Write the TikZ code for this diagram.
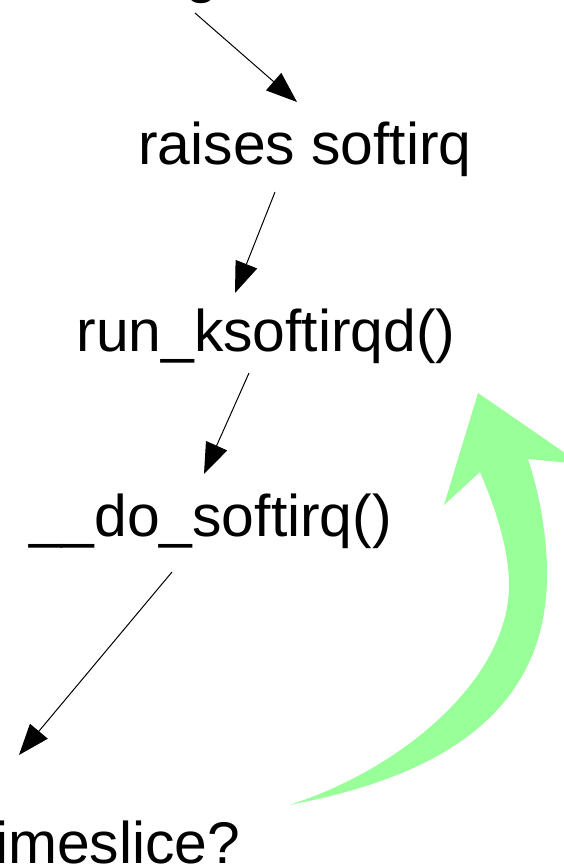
\documentclass[tikz,border=0pt]{standalone}
\usepackage{fontspec}
\setmainfont{Liberation Sans}
\usetikzlibrary{arrows.meta}
\definecolor{softgreen}{HTML}{99FF99}
\tikzset{
  lbl/.style={font=\fontsize{58.8}{70}\selectfont, inner sep=0pt, anchor=base, text=black},
  arr/.style={draw=black, line width=1pt, -{Triangle[length=31pt,width=23pt]}},
  bigarrow/.style={fill=softgreen, draw=none}
}
\begin{document}
\begin{tikzpicture}[x=1pt,y=-1pt]
\useasboundingbox (0,0) rectangle (564,868);
\clip (0,0) rectangle (564,868);
\fill[white] (0,0) rectangle (564,868);
% text nodes
\node[lbl] (top) at (202,-9) {g};
\node[lbl] (raise) at (305,164) {raises softirq};
\node[lbl] (runk) at (266,351) {run\_ksoftirqd()};
\node[lbl] (doso) at (210.5,536) {\_\_do\_softirq()};
\node[lbl, anchor=base west] (tslice) at (-5,863.5) {imeslice?};
% connector endpoints
\coordinate (a1s) at (195,13);  \coordinate (a1e) at (297,102);
\coordinate (a2s) at (275,192); \coordinate (a2e) at (235,293);
\coordinate (a3s) at (249,373); \coordinate (a3e) at (204,474);
\coordinate (a4s) at (172,572); \coordinate (a4e) at (19,755);
\draw[arr] (a1s) -- (a1e);
\draw[arr] (a2s) -- (a2e);
\draw[arr] (a3s) -- (a3e);
\draw[arr] (a4s) -- (a4e);
% big green curved arrow
\coordinate (T) at (289,805);
\coordinate (O1) at (547,575);
\coordinate (BR) at (528,459);
\coordinate (RC) at (581,464);
\coordinate (TIP) at (478,393);
\coordinate (LC) at (444,505);
\coordinate (BL) at (480,472);
\coordinate (I1) at (509,585);
\path[bigarrow] (T) .. controls (410,782) and (547,730) .. (O1)
  .. controls (547,530) and (538,490) .. (BR)
  -- (RC) -- (TIP) -- (LC) -- (BL)
  .. controls (492,500) and (509,545) .. (I1)
  .. controls (509,680) and (400,770) .. (T) -- cycle;
\end{tikzpicture}
\end{document}
